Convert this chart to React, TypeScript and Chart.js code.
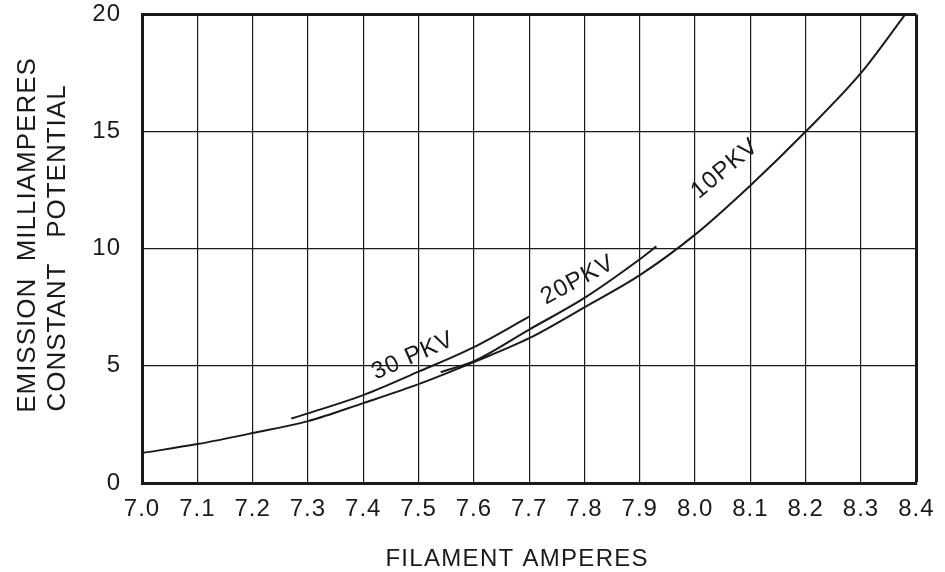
import React, { useEffect, useRef } from "react";
import { Chart, registerables } from "chart.js";

Chart.register(...registerables);

// ---- data ----
const xTicks = [7.0, 7.1, 7.2, 7.3, 7.4, 7.5, 7.6, 7.7, 7.8, 7.9, 8.0, 8.1, 8.2, 8.3, 8.4];
const yTicks = [0, 5, 10, 15, 20];

const amps10 = [7.0, 7.1, 7.2, 7.3, 7.4, 7.5, 7.6, 7.7, 7.8, 7.9, 8.0, 8.1, 8.2, 8.3, 8.38];
const ma10 = [1.28, 1.66, 2.13, 2.64, 3.41, 4.22, 5.16, 6.18, 7.5, 8.87, 10.6, 12.7, 15.0, 17.5, 20.0];

const amps20 = [7.54, 7.6, 7.7, 7.8, 7.9, 7.93];
const ma20 = [4.73, 5.2, 6.55, 7.9, 9.55, 10.1];

const amps30 = [7.27, 7.3, 7.4, 7.5, 7.6, 7.7];
const ma30 = [2.75, 2.97, 3.75, 4.75, 5.8, 7.1];

const curveLabels = ["30 PKV", "20PKV", "10PKV"];
const labelX = [7.49, 7.788, 8.054];
const labelY = [5.42, 8.66, 13.41];
const labelAngle = [24, 28, 40];

const xTitle = "FILAMENT AMPERES";
const yTitle1 = "EMISSION  MILLIAMPERES";
const yTitle2 = "CONSTANT   POTENTIAL";

const INK = "#1a1a1a";
const FONT = "'Liberation Sans', Arial, sans-serif";

const toPoints = (xs: number[], ys: number[]) => xs.map((x, i) => ({ x, y: ys[i] }));

const textPlugin = {
  id: "textPlugin",
  beforeDraw(chart: any) {
    const ctx = chart.ctx;
    (ctx as any).letterSpacing = "1px";
  },
  afterDatasetsDraw(chart: any) {
    const ctx = chart.ctx;
    const xs = chart.scales.x;
    const ys = chart.scales.y;
    ctx.save();
    (ctx as any).letterSpacing = "1px";
    ctx.fillStyle = INK;
    ctx.font = `24px ${FONT}`;
    ctx.textAlign = "center";
    ctx.textBaseline = "middle";
    curveLabels.forEach((t, i) => {
      const px = xs.getPixelForValue(labelX[i]);
      const py = ys.getPixelForValue(labelY[i]);
      ctx.save();
      ctx.translate(px, py);
      ctx.rotate((-labelAngle[i] * Math.PI) / 180);
      ctx.fillText(t, 0, 0);
      ctx.restore();
    });
    ctx.restore();
  },
  afterDraw(chart: any) {
    const ctx = chart.ctx;
    const area = chart.chartArea;
    ctx.save();
    (ctx as any).letterSpacing = "1.3px";
    ctx.fillStyle = INK;
    ctx.textAlign = "center";
    ctx.textBaseline = "alphabetic";
    ctx.font = `24px ${FONT}`;
    ctx.fillText(xTitle, (area.left + area.right) / 2 - 12, 566);

    (ctx as any).letterSpacing = "1px";
    ctx.font = `26px ${FONT}`;
    ctx.save();
    ctx.translate(35, 235);
    ctx.rotate(-Math.PI / 2);
    ctx.fillText(yTitle1, 0, 0);
    ctx.restore();
    ctx.save();
    ctx.translate(65, 248);
    ctx.rotate(-Math.PI / 2);
    ctx.fillText(yTitle2, 0, 0);
    ctx.restore();
    ctx.restore();
  },
};

export default function App() {
  const ref = useRef<HTMLCanvasElement | null>(null);

  useEffect(() => {
    if (!ref.current) return;
    const lineDs = (data: { x: number; y: number }[]) => ({
      data,
      borderColor: INK,
      borderWidth: 2,
      pointRadius: 0,
      fill: false,
      tension: 0.4,
      cubicInterpolationMode: "monotone" as const,
    });
    const chart = new Chart(ref.current, {
      type: "line",
      data: {
        datasets: [
          lineDs(toPoints(amps10, ma10)),
          lineDs(toPoints(amps20, ma20)),
          lineDs(toPoints(amps30, ma30)),
        ],
      },
      options: {
        animation: false,
        responsive: true,
        maintainAspectRatio: false,
        layout: { padding: { left: 0, top: 0, right: 28, bottom: 0 } },
        plugins: { legend: { display: false }, tooltip: { enabled: false } },
        scales: {
          x: {
            type: "linear",
            min: 7.0,
            max: 8.4,
            afterBuildTicks: (scale: any) => {
              scale.ticks = xTicks.map((v) => ({ value: v }));
            },
            afterFit: (scale: any) => {
              scale.height = 89;
            },
            ticks: {
              color: INK,
              font: { family: FONT, size: 24 },
              padding: 12,
              maxRotation: 0,
              autoSkip: false,
              callback: (v: any) => Number(v).toFixed(1),
            },
            grid: {
              color: INK,
              lineWidth: (c: any) => (c.tick && c.tick.value === 8.4 ? 3 : 1.2),
              drawTicks: false,
            },
            border: { display: true, color: INK, width: 3 },
          },
          y: {
            type: "linear",
            min: 0,
            max: 20,
            afterBuildTicks: (scale: any) => {
              scale.ticks = yTicks.map((v) => ({ value: v }));
            },
            afterFit: (scale: any) => {
              scale.width = 142;
            },
            ticks: {
              color: INK,
              font: { family: FONT, size: 24 },
              padding: 0,
              autoSkip: false,
              callback: (v: any) => String(v),
            },
            grid: {
              color: INK,
              lineWidth: (c: any) => (c.tick && c.tick.value === 20 ? 3 : 1.2),
              drawTicks: true,
              tickLength: 21,
              tickColor: "rgba(0,0,0,0)",
            },
            border: { display: true, color: INK, width: 3 },
          },
        },
      },
      plugins: [textPlugin],
    });
    return () => chart.destroy();
  }, []);

  return (
    <div style={{ position: "fixed", left: 0, top: 0, width: 945, height: 572, background: "#fff" }}>
      <canvas ref={ref} />
    </div>
  );
}
